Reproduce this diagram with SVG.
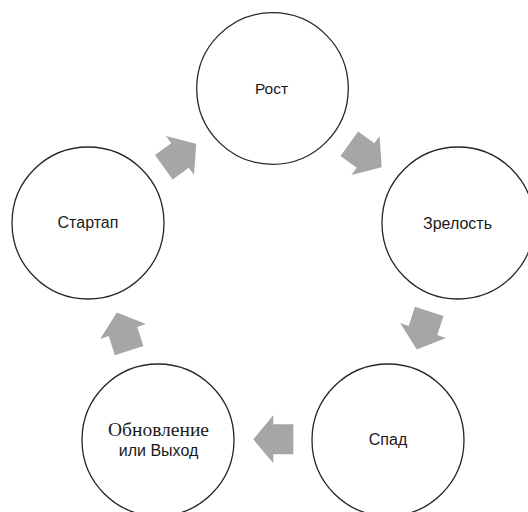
<svg xmlns="http://www.w3.org/2000/svg" width="528" height="512" viewBox="0 0 528 512">
<defs>
<style>
.c{fill:#fff;stroke:#262626;stroke-width:1.3}
.t{font-family:"Liberation Sans",Arial,sans-serif;font-size:16px;fill:#1a1a1a;text-anchor:middle}
.s{font-family:"Liberation Serif","Times New Roman",serif;font-size:19.5px;fill:#1a1a1a;text-anchor:middle}
.a{fill:#a6a6a6}
</style>
<polygon id="arr" points="-20,-15 0,-15 0,-24 20,0 0,24 0,15 -20,15"/>
</defs>
<rect width="528" height="512" fill="#fff"/>
<g id="connectors" class="a">
<use href="#arr" transform="translate(180,155.5) rotate(-35.9)"/>
<use href="#arr" transform="translate(365.5,155.5) rotate(35.9)"/>
<use href="#arr" transform="translate(423,330.5) rotate(107.9)"/>
<use href="#arr" transform="translate(273.3,439.3) rotate(180)"/>
<use href="#arr" transform="translate(123,331.5) rotate(-107.9)"/>
</g>
<g id="rost"><circle class="c" cx="272.5" cy="88.5" r="75.8"/><text class="t" x="271.5" y="94.3" style="font-size:15.5px">Рост</text></g>
<g id="zrelost"><circle class="c" cx="458" cy="223" r="76"/><text class="t" x="457.5" y="228.5">Зрелость</text></g>
<g id="spad"><circle class="c" cx="388" cy="440" r="76"/><text class="t" x="388" y="445">Спад</text></g>
<g id="obnovlenie"><circle class="c" cx="158" cy="440" r="76"/><text class="s" x="158.5" y="436">Обновление</text><text class="t" x="158.5" y="456.3">или Выход</text></g>
<g id="startap"><circle class="c" cx="88" cy="223" r="76"/><text class="t" x="88" y="228">Стартап</text></g>
</svg>
